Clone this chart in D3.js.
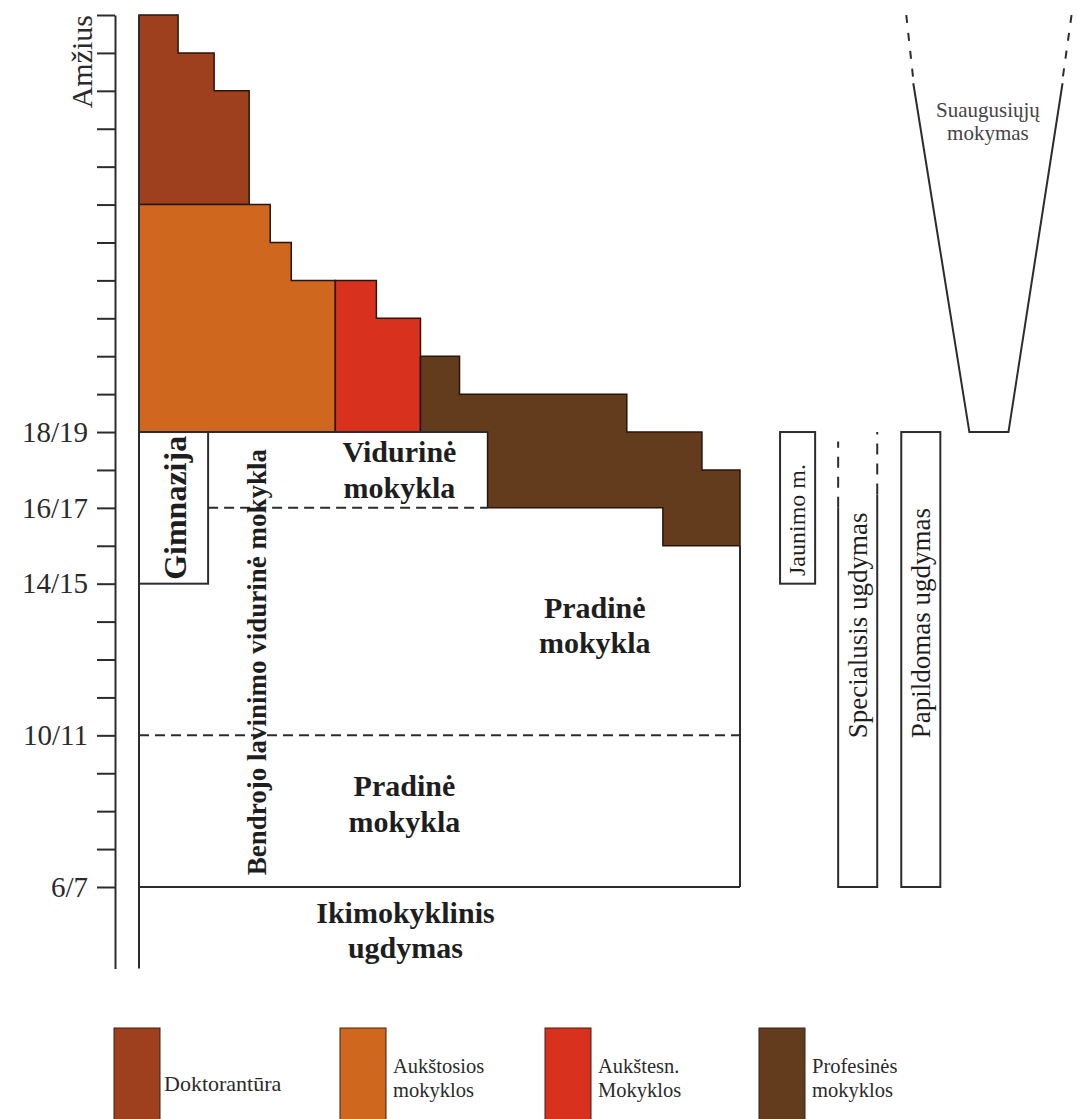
<!DOCTYPE html>
<html><head><meta charset="utf-8">
<script src="https://cdn.jsdelivr.net/npm/d3@7"></script>
<style>
body{margin:0;background:#fff}
svg{display:block}
</style>
</head><body>
<svg id="c" width="1077" height="1119"></svg>
<script>
// ---------- data ----------
const ageTicks = d3.range(6, 30);               // one tick per year of age
const labeledAges = [6, 10, 14, 16, 18];
const ageLabels = ["6/7", "10/11", "14/15", "16/17", "18/19"];

const stageNames = ["Doktorantūra", "Aukštosios mokyklos", "Aukštesn. Mokyklos", "Profesinės mokyklos"];
const stageColors = ["#9e401e", "#cf681e", "#d8321e", "#623c1c"];
// columns: [x0, x1, fromAge, toAge]  (x in diagram column units)
const doktorantura = [[0, 3.9, 24, 29], [3.9, 7.5, 24, 28], [7.5, 11.0, 24, 27]];
const aukstosios   = [[0, 13.1, 18, 24], [13.1, 15.2, 18, 23], [15.2, 19.6, 18, 22]];
const aukstesn     = [[19.6, 23.7, 18, 22], [23.7, 28.1, 18, 21]];
const profesines   = [[28.1, 32.0, 18, 20], [32.0, 34.8, 18, 19], [34.8, 48.7, 16, 19],
                      [48.7, 52.3, 16, 18], [52.3, 56.2, 15, 18], [56.2, 60.0, 15, 17]];
const stages = [doktorantura, aukstosios, aukstesn, profesines];

// school blocks [x0, x1, fromAge, toAge]
const mainSchool = [0, 60, 6, 18];
const gimnazija = [0, 6.9, 14, 18];
const viduriniEdge = 34.8;
const jaunimo = [64.0, 67.5, 14, 18];
const specialusis = [69.8, 73.7, 6, 18];
const papildomas = [76.1, 80.0, 6, 18];
const adultBottom = [82.9, 86.8, 18];
const adultTop = [77.3, 92.2, 27.2];
const adultDashTop = [76.6, 93.1, 29];

// ---------- scales ----------
const SERIF = "'Liberation Serif', 'Times New Roman', Times, serif";
const svg = d3.select("#c").attr("font-family", SERIF);
const y = d3.scaleLinear().domain([3.85, 29]).range([968.5, 15]);
const x = d3.scaleLinear().domain([0, 60]).range([139, 740]);
const LINE = "#2c2c2c";

// ---------- coloured stages ----------
function outline(cols) {
  const top = [], bot = [];
  cols.forEach(([x0, x1, a0, a1]) => {
    top.push([x(x0), y(a1)], [x(x1), y(a1)]);
    bot.unshift([x(x1), y(a0)], [x(x0), y(a0)]);
  });
  return d3.line()(top.concat(bot)) + "Z";
}
svg.append("g").selectAll("path").data(stages).join("path")
  .attr("d", outline)
  .attr("fill", (d, i) => stageColors[i])
  .attr("stroke", "#2a150a").attr("stroke-width", 1.5).attr("stroke-linejoin", "miter");

// ---------- axis ----------
const axis = d3.axisLeft(y).tickValues(ageTicks).tickSize(18).tickSizeOuter(0).tickPadding(9)
  .tickFormat(d => { const k = labeledAges.indexOf(d); return k >= 0 ? ageLabels[k] : ""; });
const ga = svg.append("g").attr("transform", "translate(115,0)").call(axis).attr("font-family", SERIF);
ga.select(".domain").attr("stroke", LINE).attr("stroke-width", 2);
ga.selectAll(".tick line").attr("stroke", LINE).attr("stroke-width", 2);
ga.selectAll(".tick text").attr("font-size", 29).attr("font-family", SERIF).attr("fill", "#2a2a2a");
svg.append("text").attr("transform", `translate(92,${y(29)}) rotate(-90)`)
  .attr("font-family", SERIF)
  .attr("text-anchor", "end").attr("font-size", 30).attr("fill", "#2a2a2a").text("Amžius");

// ---------- main school block ----------
const g = svg.append("g").attr("fill", "none").attr("stroke", LINE).attr("stroke-width", 2);
g.append("line").attr("x1", x(0)).attr("x2", x(0)).attr("y1", y(29)).attr("y2", y(3.85));
g.append("line").attr("x1", x(0)).attr("x2", x(viduriniEdge)).attr("y1", y(18)).attr("y2", y(18));
g.append("line").attr("x1", x(mainSchool[1])).attr("x2", x(mainSchool[1])).attr("y1", y(15)).attr("y2", y(mainSchool[2]));
g.append("line").attr("x1", x(0)).attr("x2", x(mainSchool[1])).attr("y1", y(6)).attr("y2", y(6));
g.append("rect").attr("x", x(gimnazija[0])).attr("y", y(gimnazija[3]))
  .attr("width", x(gimnazija[1]) - x(gimnazija[0])).attr("height", y(gimnazija[2]) - y(gimnazija[3]));
g.append("line").attr("x1", x(gimnazija[1])).attr("x2", x(viduriniEdge)).attr("y1", y(16)).attr("y2", y(16))
  .attr("stroke-dasharray", "10,6");
g.append("line").attr("x1", x(0)).attr("x2", x(60)).attr("y1", y(10)).attr("y2", y(10))
  .attr("stroke-dasharray", "10,6");

// ---------- side blocks ----------
[jaunimo, papildomas].forEach(b => {
  g.append("rect").attr("x", x(b[0])).attr("y", y(b[3]))
    .attr("width", x(b[1]) - x(b[0])).attr("height", y(b[2]) - y(b[3]));
});
const s = specialusis;
g.append("path").attr("d", d3.line()([[x(s[0]), y(16)], [x(s[0]), y(6)], [x(s[1]), y(6)], [x(s[1]), y(16.35)]]));
g.append("line").attr("x1", x(s[0])).attr("x2", x(s[0])).attr("y1", y(16)).attr("y2", y(17.75)).attr("stroke-dasharray", "11,9");
g.append("line").attr("x1", x(s[1])).attr("x2", x(s[1])).attr("y1", y(16.35)).attr("y2", y(18)).attr("stroke-dasharray", "11,9");

// adult learning funnel
g.append("path").attr("d", d3.line()([[x(adultTop[0]), y(adultTop[2])], [x(adultBottom[0]), y(adultBottom[2])],
  [x(adultBottom[1]), y(adultBottom[2])], [x(adultTop[1]), y(adultTop[2])]]));
g.append("line").attr("x1", x(adultDashTop[0])).attr("y1", y(adultDashTop[2]))
  .attr("x2", x(adultTop[0])).attr("y2", y(adultTop[2] + 0.1)).attr("stroke-dasharray", "8,10");
g.append("line").attr("x1", x(adultDashTop[1])).attr("y1", y(adultDashTop[2]))
  .attr("x2", x(adultTop[1])).attr("y2", y(adultTop[2] + 0.1)).attr("stroke-dasharray", "8,10");

// ---------- labels ----------
function block(lines, cx, cy, size, weight, lh, fill) {
  const t = svg.append("text").attr("text-anchor", "middle").attr("font-size", size)
    .attr("font-weight", weight).attr("font-family", SERIF).attr("fill", fill || "#1e1e1e");
  const n = lines.length;
  lines.forEach((l, i) => {
    t.append("tspan").attr("x", cx).attr("y", cy + (i - (n - 1) / 2) * lh + size * 0.33).text(l);
  });
}
block(["Vidurinė", "mokykla"], x(26.0), y(17), 30, "bold", 36);
block(["Pradinė", "mokykla"], x(45.5), y(12.9), 30, "bold", 35);
block(["Pradinė", "mokykla"], x(26.5), y(8.18), 30, "bold", 36);
block(["Ikimokyklinis", "ugdymas"], x(26.6), y(4.85), 30, "bold", 35);
block(["Suaugusiųjų", "mokymas"], x(84.75), 122, 21, "normal", 23, "#444");

function vtext(txt, bx, cy, size, weight) {
  svg.append("text").attr("transform", `translate(${bx},${cy}) rotate(-90)`)
    .attr("font-family", SERIF).attr("fill", "#1e1e1e")
    .attr("text-anchor", "middle").attr("font-size", size).attr("font-weight", weight).text(txt);
}
vtext("Gimnazija", x(4.7), y(16), 32, "bold");
vtext("Bendrojo lavinimo vidurinė mokykla", x(12.7), y(11.93), 27, "bold");
vtext("Jaunimo m.", x(66.5), y(15.68), 24, "normal");
vtext("Specialusis ugdymas", x(72.7), y(12.9), 27, "normal");
vtext("Papildomas ugdymas", x(79.0), y(12.96), 27, "normal");

// ---------- legend ----------
const legendX = [114, 340, 545, 759];
const lg = svg.append("g");
stageNames.forEach((name, i) => {
  lg.append("rect").attr("x", legendX[i]).attr("y", 1028).attr("width", 46).attr("height", 100)
    .attr("fill", stageColors[i]).attr("stroke", "#3a2010").attr("stroke-width", 1);
  const parts = name.split(" ");
  if (parts.length === 1) {
    lg.append("text").attr("font-size", 22).attr("fill", "#2a2a2a").attr("font-family", SERIF)
      .attr("x", legendX[i] + 50).attr("y", 1091).text(name);
  } else {
    parts.forEach((p, k) => lg.append("text").attr("font-size", 20.5).attr("fill", "#2a2a2a")
      .attr("font-family", SERIF)
      .attr("x", legendX[i] + 53).attr("y", 1073 + k * 24).text(p));
  }
});
</script>
</body></html>
